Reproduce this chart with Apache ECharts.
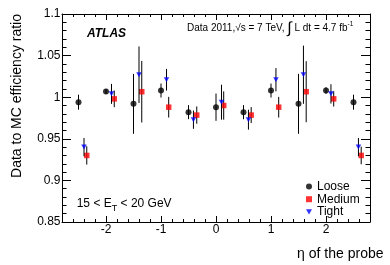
<!DOCTYPE html>
<html>
<head>
<meta charset="utf-8">
<script src="https://cdn.jsdelivr.net/npm/echarts@6/dist/echarts.min.js"></script>
<style>
html,body{margin:0;padding:0;background:#fff;}
#c{width:390px;height:265px;}
</style>
</head>
<body>
<div id="c"></div>
<script>
// eta positions of the points (each selection slightly shifted)
const etaLoose  = [-2.5, -2.0, -1.5, -1.0, -0.5, 0.0, 0.5, 1.0, 1.5, 2.0, 2.5];
const etaTight  = [-2.4, -1.9, -1.4, -0.9, -0.41, 0.1, 0.59, 1.09, 1.59, 2.09, 2.59];
const etaMedium = [-2.35, -1.85, -1.35, -0.86, -0.35, 0.14, 0.64, 1.14, 1.64, 2.14, 2.64];

const looseVal  = [0.994, 1.007, 0.992, 1.008, 0.982, 0.988, 0.982, 1.008, 0.992, 1.008, 0.994];
const looseErr  = [0.009, 0.003, 0.036, 0.0084, 0.0084, 0.0164, 0.0085, 0.0084, 0.036, 0.004, 0.009];
const mediumVal = [0.930, 0.998, 1.0066, 0.988, 0.9785, 0.990, 0.9785, 0.988, 1.0066, 0.998, 0.930];
const mediumErr = [0.011, 0.010, 0.037, 0.0124, 0.0104, 0.017, 0.0096, 0.0124, 0.0367, 0.0092, 0.0106];
const tightVal  = [0.940, 1.004, 1.027, 1.021, 0.973, 0.994, 0.973, 1.021, 1.027, 1.004, 0.940];
const tightErr  = [0.011, 0.012, 0.034, 0.013, 0.011, 0.021, 0.012, 0.014, 0.035, 0.0116, 0.011];

const xRange = [-2.8, 2.8];
const yRange = [0.85, 1.1];
const yStep = 0.05;

const FONT = '"Liberation Sans", Arial, Helvetica, sans-serif';
const downTri = 'path://M0,0 L10,0 L5,9 Z';

function pts(eta, v) { return eta.map((e, i) => [e, v[i]]); }
function bars(eta, v, err) { return eta.map((e, i) => [e, v[i] - err[i], v[i] + err[i]]); }

function errSeries(eta, v, err, z) {
  return {
    type: 'custom', silent: true, z: z, xAxisIndex: 0, yAxisIndex: 0,
    data: bars(eta, v, err),
    encode: { x: 0, y: [1, 2] },
    renderItem: function (params, api) {
      const x = api.value(0);
      const p1 = api.coord([x, api.value(1)]);
      const p2 = api.coord([x, api.value(2)]);
      return { type: 'line', shape: { x1: p1[0], y1: p1[1], x2: p2[0], y2: p2[1] },
               style: { stroke: '#000', lineWidth: 1 } };
    }
  };
}

const tickCommon = {
  axisLine: { show: true, onZero: false, lineStyle: { color: '#000', width: 1 } },
  splitLine: { show: false },
};

const chart = echarts.init(document.getElementById('c'), null, { renderer: 'canvas' });
chart.setOption({
  animation: false,
  backgroundColor: '#fff',
  textStyle: { fontFamily: FONT, color: '#000' },
  grid: { left: 62, right: 20, top: 14, bottom: 43, containLabel: false },
  xAxis: [
    Object.assign({
      type: 'value', min: xRange[0], max: xRange[1], position: 'bottom',
      axisTick: { inside: true, length: 6, lineStyle: { color: '#000' } },
      minorTick: { show: true, splitNumber: 5, length: 3, lineStyle: { color: '#000' } },
      axisLabel: { fontSize: 12, color: '#000', margin: 2, fontFamily: FONT,
        formatter: v => (Math.abs(v - Math.round(v)) < 1e-6 ? String(Math.round(v)) : '') }
    }, tickCommon),
    Object.assign({
      type: 'value', min: xRange[0], max: xRange[1], position: 'top',
      axisTick: { inside: true, length: 6, lineStyle: { color: '#000' } },
      minorTick: { show: true, splitNumber: 5, length: 3, lineStyle: { color: '#000' } },
      axisLabel: { show: false }
    }, tickCommon)
  ],
  yAxis: [
    Object.assign({
      type: 'value', min: yRange[0], max: yRange[1], interval: yStep, position: 'left',
      axisTick: { inside: true, length: 9, lineStyle: { color: '#000' } },
      minorTick: { show: true, splitNumber: 5, length: 4.5, lineStyle: { color: '#000' } },
      axisLabel: { fontSize: 12, color: '#000', margin: 1.5, fontFamily: FONT,
        formatter: v => String(+v.toFixed(2)) }
    }, tickCommon),
    Object.assign({
      type: 'value', min: yRange[0], max: yRange[1], interval: yStep, position: 'right',
      axisTick: { inside: true, length: 9, lineStyle: { color: '#000' } },
      minorTick: { show: true, splitNumber: 5, length: 4.5, lineStyle: { color: '#000' } },
      axisLabel: { show: false }
    }, tickCommon)
  ],
  legend: {
    orient: 'vertical', left: 301, top: 175.5, itemWidth: 6, itemHeight: 6, itemGap: 0.7,
    selectedMode: false,
    textStyle: { fontSize: 12, color: '#000', fontFamily: FONT, lineHeight: 12 },
    data: ['Loose', 'Medium', 'Tight']
  },
  series: [
    errSeries(etaLoose, looseVal, looseErr, 1),
    { name: 'Loose', type: 'scatter', z: 2, symbol: 'circle', symbolSize: 6,
      itemStyle: { color: '#000' }, data: pts(etaLoose, looseVal), silent: true },
    errSeries(etaMedium, mediumVal, mediumErr, 3),
    { name: 'Medium', type: 'scatter', z: 4, symbol: 'rect', symbolSize: 5.5,
      itemStyle: { color: '#ff0000' }, data: pts(etaMedium, mediumVal), silent: true },
    errSeries(etaTight, tightVal, tightErr, 5),
    { name: 'Tight', type: 'scatter', z: 6, symbol: downTri, symbolSize: [5.5, 5],
      itemStyle: { color: '#0000ff' }, data: pts(etaTight, tightVal), silent: true }
  ],
  graphic: [
    { type: 'text', x: 87, y: 33.3, z: 10,
      style: { text: 'ATLAS', font: 'italic bold 12px ' + FONT, fill: '#000', verticalAlign: 'middle', align: 'left' } },
    { type: 'text', x: 187, y: 28.5, z: 10,
      style: {
        text: '{m|Data 2011,√s = 7 TeV, }{i|∫}{m| L dt = 4.7 fb}{s|-1}',
        verticalAlign: 'middle', align: 'left',
        rich: {
          m: { fontSize: 10, fontFamily: FONT, lineHeight: 16, verticalAlign: 'middle', fill: '#000' },
          i: { fontSize: 16, fontFamily: FONT, lineHeight: 16, verticalAlign: 'middle', fill: '#000' },
          s: { fontSize: 6.5, fontFamily: FONT, lineHeight: 9, verticalAlign: 'top', fill: '#000' }
        }
      } },
    { type: 'text', x: 76.7, y: 205.5, z: 10,
      style: {
        text: '{m|15 < E}{s|T}{m| < 20 GeV}',
        verticalAlign: 'middle', align: 'left',
        rich: {
          m: { fontSize: 12, fontFamily: FONT, lineHeight: 15, verticalAlign: 'top', fill: '#000' },
          s: { fontSize: 9, fontFamily: FONT, lineHeight: 9, verticalAlign: 'bottom', fill: '#000' }
        }
      } },
    { type: 'text', x: 383.5, y: 254.5, z: 10,
      style: { text: 'η of the probe', font: '14px ' + FONT, fill: '#000', align: 'right', verticalAlign: 'middle' } },
    { type: 'text', x: 17.5, y: 14, rotation: Math.PI / 2, z: 10,
      style: { text: 'Data to MC efficiency ratio', font: '14px ' + FONT, fill: '#000', align: 'right', verticalAlign: 'middle' } }
  ]
});
</script>
</body>
</html>
